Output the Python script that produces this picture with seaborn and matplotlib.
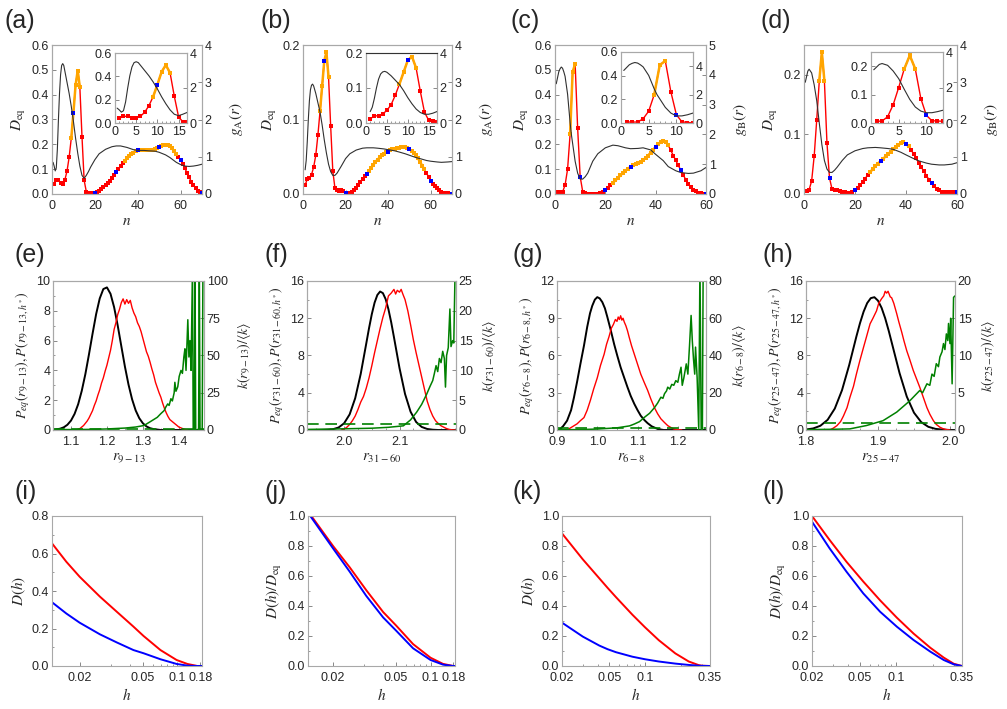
import numpy as np
import pandas as pd
import matplotlib
matplotlib.use("Agg")
import matplotlib.pyplot as plt
import seaborn as sns
from matplotlib.ticker import FormatStrFormatter, MultipleLocator, NullFormatter, FixedLocator

# ---------------- data: top row (D_eq vs n, g(r)) ----------------
n_ab = list(range(1, 71))
n_cd = list(range(1, 61))
D_a = [0.040, 0.058, 0.056, 0.045, 0.042, 0.057, 0.092, 0.148, 0.225, 0.328,
       0.438, 0.497, 0.430, 0.230, 0.055, 0.010, 0.005, 0.003, 0.004, 0.006,
       0.009, 0.014, 0.020, 0.027, 0.035, 0.044, 0.054, 0.065, 0.077, 0.090,
       0.101, 0.112, 0.123, 0.134, 0.144, 0.153, 0.161, 0.167, 0.172, 0.176,
       0.177, 0.178, 0.178, 0.178, 0.178, 0.178, 0.179, 0.181, 0.184, 0.188,
       0.193, 0.197, 0.199, 0.198, 0.193, 0.184, 0.172, 0.160, 0.148, 0.137,
       0.122, 0.104, 0.085, 0.067, 0.050, 0.036, 0.024, 0.014, 0.008, 0.005]
D_b = [0.012, 0.020, 0.021, 0.026, 0.036, 0.052, 0.079, 0.111, 0.145, 0.179,
       0.190, 0.157, 0.091, 0.031, 0.008, 0.005, 0.004, 0.005, 0.004, 0.002,
       0.001, 0.001, 0.003, 0.005, 0.008, 0.012, 0.016, 0.020, 0.024, 0.027,
       0.031, 0.035, 0.039, 0.043, 0.046, 0.049, 0.052, 0.054, 0.056, 0.057,
       0.059, 0.060, 0.061, 0.062, 0.062, 0.063, 0.063, 0.063, 0.062, 0.060,
       0.058, 0.055, 0.052, 0.048, 0.043, 0.038, 0.033, 0.028, 0.023, 0.018,
       0.014, 0.011, 0.008, 0.005, 0.003, 0.002, 0.001, 0.001, 0.0005, 0.0005]
D_c = [0.008, 0.008, 0.008, 0.036, 0.100, 0.240, 0.490, 0.525, 0.264, 0.070,
       0.010, 0.004, 0.002, 0.002, 0.002, 0.002, 0.002, 0.003, 0.008, 0.017,
       0.025, 0.035, 0.045, 0.055, 0.065, 0.075, 0.085, 0.094, 0.102, 0.109,
       0.115, 0.120, 0.125, 0.130, 0.137, 0.145, 0.155, 0.166, 0.178, 0.190,
       0.200, 0.209, 0.215, 0.210, 0.196, 0.176, 0.155, 0.135, 0.115, 0.096,
       0.076, 0.057, 0.041, 0.028, 0.018, 0.011, 0.006, 0.003, 0.002, 0.002]
D_d = [0.0056, 0.007, 0.022, 0.064, 0.125, 0.190, 0.238, 0.190, 0.086, 0.027,
       0.008, 0.007, 0.006, 0.005, 0.004, 0.003, 0.002, 0.002, 0.004, 0.007,
       0.010, 0.015, 0.020, 0.026, 0.032, 0.037, 0.042, 0.047, 0.051, 0.055,
       0.059, 0.063, 0.067, 0.071, 0.075, 0.079, 0.082, 0.085, 0.087, 0.084,
       0.080, 0.074, 0.067, 0.060, 0.052, 0.045, 0.038, 0.031, 0.024, 0.018,
       0.013, 0.009, 0.006, 0.004, 0.003, 0.003, 0.003, 0.003, 0.003, 0.003]
orange_a = [(9, 13), (34, 58)]
orange_b = [(8, 12), (30, 57)]
orange_c = [(6, 8), (23, 45)]
orange_d = [(6, 8), (26, 41)]

g_a_x = [0.5, 1, 1.5, 2, 2.5, 3, 3.5, 4, 4.5, 5, 5.5, 6, 7, 8, 9, 10, 11, 12, 13, 14,
         15, 16, 17, 18, 20, 22, 25, 28, 30, 32, 35, 38, 40, 43, 45, 48, 50, 53, 55, 58,
         60, 62, 64, 66, 68, 70]
g_a = [0.85, 0.75, 0.62, 0.7, 1.2, 2.0, 2.7, 3.2, 3.45, 3.5, 3.45, 3.3, 3.0, 2.7, 2.35,
       1.95, 1.5, 1.1, 0.75, 0.5, 0.42, 0.5, 0.6, 0.72, 0.92, 1.08, 1.2, 1.27, 1.29, 1.29,
       1.25, 1.19, 1.17, 1.17, 1.16, 1.15, 1.12, 1.05, 0.98, 0.85, 0.79, 0.75, 0.74, 0.75,
       0.77, 0.8]
g_b_x = [1, 1.5, 2, 2.5, 3, 3.5, 4, 4.5, 5, 6, 7, 8, 9, 10, 11, 12, 13, 14, 15, 16,
         18, 20, 22, 25, 28, 30, 33, 35, 38, 40, 43, 45, 48, 50, 53, 55, 58, 60, 63, 65,
         68, 70]
g_b = [0.65, 0.9, 1.4, 2.0, 2.5, 2.8, 2.92, 2.95, 2.9, 2.7, 2.45, 2.2, 1.85, 1.45, 1.1,
       0.8, 0.6, 0.5, 0.5, 0.56, 0.75, 0.95, 1.08, 1.18, 1.23, 1.24, 1.24, 1.23, 1.21,
       1.19, 1.16, 1.13, 1.08, 1.04, 0.98, 0.95, 0.9, 0.88, 0.86, 0.85, 0.86, 0.87]
g_c_x = [0.5, 1, 1.5, 2, 2.5, 3, 3.5, 4, 5, 6, 6.5, 7, 8, 9, 10, 11, 12, 13, 15, 17,
         20, 23, 25, 28, 30, 33, 35, 38, 40, 43, 45, 48, 50, 53, 55, 58, 60]
g_c = [3.7, 3.9, 4.1, 4.2, 4.26, 4.22, 4.1, 3.95, 3.35, 2.4, 2.0, 1.7, 1.1, 0.7, 0.5,
       0.5, 0.58, 0.7, 1.1, 1.35, 1.55, 1.64, 1.62, 1.55, 1.52, 1.53, 1.55, 1.48, 1.33,
       1.12, 0.92, 0.78, 0.72, 0.69, 0.7, 0.78, 0.89]
g_d_x = [0.5, 1, 1.5, 2, 3, 4, 5, 6, 7, 8, 9, 10, 11, 12, 13, 15, 17, 20, 23, 25,
         28, 30, 33, 35, 38, 40, 43, 45, 48, 50, 53, 55, 58, 60]
g_d = [3.0, 3.15, 3.3, 3.35, 3.25, 2.93, 2.5, 1.9, 1.33, 0.9, 0.67, 0.58, 0.58, 0.64,
       0.72, 0.9, 1.05, 1.16, 1.22, 1.24, 1.25, 1.24, 1.22, 1.2, 1.12, 1.05, 0.95, 0.89,
       0.83, 0.8, 0.78, 0.78, 0.8, 0.84]

# ---------------- data: middle row ----------------
be_x = [1.05, 1.07, 1.08, 1.09, 1.10, 1.11, 1.12, 1.13, 1.14, 1.15, 1.16, 1.17, 1.18,
        1.19, 1.20, 1.21, 1.22, 1.23, 1.24, 1.25, 1.26, 1.27, 1.28, 1.29, 1.30, 1.31,
        1.32, 1.33, 1.35, 1.47]
be_y = [0.0, 0.09, 0.18, 0.35, 0.63, 1.08, 1.73, 2.63, 3.75, 5.07, 6.46, 7.78, 8.83,
        9.46, 9.57, 9.14, 8.24, 7.01, 5.63, 4.26, 3.05, 2.06, 1.31, 0.79, 0.45, 0.24,
        0.12, 0.06, 0.0, 0.0]
re_x = [1.115, 1.12, 1.125, 1.13, 1.135, 1.14, 1.145, 1.15, 1.155, 1.16, 1.165, 1.17,
        1.175, 1.18, 1.185, 1.19, 1.195, 1.2, 1.205, 1.21, 1.215, 1.22, 1.225, 1.23,
        1.235, 1.24, 1.245, 1.25, 1.255, 1.26, 1.265, 1.27, 1.275, 1.28, 1.285, 1.29,
        1.295, 1.3, 1.305, 1.31, 1.315, 1.32, 1.325, 1.33, 1.335, 1.34, 1.345, 1.35,
        1.355, 1.36, 1.365, 1.37, 1.375, 1.38, 1.385, 1.39, 1.395, 1.4, 1.405, 1.41,
        1.415, 1.42, 1.425]
re_y = [0.0, 0.05, 0.1, 0.2, 0.3, 0.45, 0.6, 0.8, 1.05, 1.3, 1.65, 1.95, 2.35, 2.7,
        3.15, 3.5, 3.95, 4.35, 4.85, 5.35, 6.0, 6.75, 7.2, 7.75, 8.1, 8.55, 8.8, 8.45,
        8.75, 8.5, 8.7, 8.2, 7.85, 7.6, 7.2, 6.95, 6.6, 6.15, 5.7, 5.25, 4.95, 4.55,
        4.1, 3.7, 3.2, 2.85, 2.5, 2.2, 1.8, 1.45, 1.15, 0.9, 0.7, 0.6, 0.5, 0.4, 0.3,
        0.2, 0.15, 0.1, 0.05, 0.02, 0.0]
ke_x = [1.05, 1.10, 1.15, 1.20, 1.25, 1.28, 1.303, 1.32, 1.34, 1.35, 1.359, 1.364,
        1.369, 1.373, 1.378, 1.382, 1.387, 1.389, 1.392, 1.397, 1.401, 1.406, 1.410,
        1.414, 1.417, 1.420, 1.425, 1.428, 1.431, 1.434, 1.438, 1.440, 1.443, 1.445,
        1.447, 1.455, 1.457, 1.459, 1.465, 1.467, 1.47]
ke_y = [0.3, 0.3, 0.4, 0.7, 1.3, 2.0, 3.0, 5.5, 8.5, 11.0, 13.0, 15.5, 17.5, 16.5,
        21.0, 19.5, 25.0, 32.0, 26.0, 29.0, 36.0, 40.0, 38.0, 49.0, 54.5, 40.0, 74.0,
        49.0, 60.0, 40.0, 110.0, 0.0, 0.0, 110.0, 0.0, 0.0, 110.0, 0.0, 0.0, 110.0, 110.0]

bf_x = [1.935, 1.96, 1.97, 1.98, 1.99, 2.00, 2.01, 2.02, 2.03, 2.04, 2.045, 2.05, 2.055,
        2.06, 2.065, 2.07, 2.075, 2.08, 2.085, 2.09, 2.10, 2.11, 2.12, 2.13, 2.14, 2.15,
        2.16, 2.17, 2.2]
bf_y = [0.0, 0.006, 0.024, 0.087, 0.267, 0.72, 1.68, 3.41, 6.03, 9.29, 10.94, 12.44,
        13.67, 14.50, 14.87, 14.70, 14.05, 12.97, 11.57, 9.96, 6.65, 3.87, 1.96, 0.86,
        0.33, 0.11, 0.03, 0.0, 0.0]
rf_x = [1.995, 2.0, 2.005, 2.01, 2.015, 2.02, 2.025, 2.03, 2.035, 2.04, 2.045, 2.05,
        2.055, 2.06, 2.065, 2.07, 2.075, 2.08, 2.085, 2.09, 2.093, 2.096, 2.1, 2.103,
        2.106, 2.11, 2.115, 2.12, 2.125, 2.13, 2.135, 2.14, 2.145, 2.15, 2.155, 2.16,
        2.165, 2.17, 2.175, 2.18, 2.185, 2.19, 2.195, 2.2]
rf_y = [0.0, 0.1, 0.3, 0.6, 1.0, 1.5, 2.2, 3.0, 3.6, 4.5, 5.6, 6.9, 8.3, 9.6, 10.9,
        12.1, 13.1, 14.4, 14.7, 15.1, 14.6, 15.0, 14.8, 15.1, 14.6, 14.0, 12.8, 11.3,
        9.7, 8.3, 7.0, 5.7, 4.4, 3.1, 2.2, 1.5, 1.0, 0.7, 0.45, 0.3, 0.15, 0.06, 0.02, 0.0]
kf_x = [1.935, 2.00, 2.05, 2.08, 2.107, 2.12, 2.131, 2.14, 2.149, 2.155, 2.16, 2.163,
        2.166, 2.169, 2.172, 2.175, 2.178, 2.181, 2.183, 2.185, 2.188, 2.191, 2.193,
        2.196, 2.198, 2.2, 2.203]
kf_y = [0.1, 0.2, 0.3, 0.45, 0.7, 1.7, 3.0, 4.3, 6.0, 7.3, 8.3, 9.5, 10.8, 9.8, 12.0,
        11.3, 13.2, 12.0, 7.2, 12.5, 13.8, 20.3, 14.0, 15.0, 14.6, 25.0, 26.0]

bg_x = [0.9, 0.905, 0.915, 0.925, 0.935, 0.942, 0.95, 0.958, 0.967, 0.975, 0.982,
        0.9875, 0.994, 1.0, 1.006, 1.0125, 1.019, 1.025, 1.033, 1.042, 1.05, 1.058,
        1.067, 1.075, 1.083, 1.092, 1.1, 1.108, 1.117, 1.125, 1.135, 1.15, 1.165, 1.27]
bg_y = [0.0, 0.0, 0.3, 0.75, 1.6, 2.6, 3.9, 5.3, 6.8, 8.3, 9.4, 10.0, 10.5, 10.7, 10.6,
        10.3, 9.8, 9.1, 8.1, 6.9, 5.95, 5.05, 4.2, 3.45, 2.75, 2.1, 1.6, 1.15, 0.8, 0.55,
        0.3, 0.08, 0.0, 0.0]
rg_x = [0.925, 0.94, 0.95, 0.958, 0.967, 0.975, 0.983, 0.991, 1.0, 1.008, 1.017, 1.023,
        1.029, 1.035, 1.04, 1.045, 1.049, 1.052, 1.055, 1.058, 1.061, 1.064, 1.067, 1.071,
        1.075, 1.079, 1.085, 1.092, 1.1, 1.108, 1.117, 1.125, 1.133, 1.142, 1.15, 1.158,
        1.167, 1.175, 1.183, 1.19, 1.2, 1.21]
rg_y = [0.0, 0.3, 0.5, 0.75, 1.0, 1.6, 2.4, 3.3, 4.2, 5.2, 6.1, 6.9, 7.5, 8.2, 8.5,
        8.9, 8.75, 9.1, 8.9, 9.2, 8.85, 9.0, 8.7, 8.4, 8.0, 7.5, 6.8, 6.1, 5.3, 4.5, 3.8,
        3.2, 2.5, 1.8, 1.3, 0.9, 0.6, 0.35, 0.2, 0.08, 0.03, 0.0]
kg_x = [0.9, 0.95, 1.0, 1.05, 1.08, 1.092, 1.105, 1.117, 1.13, 1.142, 1.15, 1.158,
        1.163, 1.167, 1.172, 1.175, 1.18, 1.185, 1.19, 1.195, 1.2, 1.204, 1.208, 1.211,
        1.215, 1.221, 1.225, 1.229, 1.233, 1.236, 1.239, 1.242, 1.244, 1.248, 1.252,
        1.255, 1.258, 1.261, 1.263, 1.266, 1.27]
kg_y = [0.2, 0.2, 0.5, 1.2, 2.2, 3.2, 4.5, 6.8, 9.0, 12.0, 14.5, 17.6, 17.0, 19.5, 21.0,
        23.0, 22.0, 24.5, 24.0, 26.5, 25.6, 30.0, 33.7, 24.0, 28.0, 35.5, 30.0, 45.0,
        61.5, 48.0, 38.0, 30.0, 44.5, 28.0, 0.0, 90.0, 0.0, 0.0, 90.0, 90.0, 90.0]

bh_x = [1.8, 1.81, 1.82, 1.83, 1.84, 1.85, 1.86, 1.87, 1.875, 1.88, 1.885, 1.89, 1.895,
        1.90, 1.905, 1.91, 1.915, 1.92, 1.93, 1.94, 1.95, 1.96, 1.97, 1.98, 1.99, 2.0, 2.007]
bh_y = [0.054, 0.167, 0.455, 1.09, 2.30, 4.27, 6.97, 10.04, 11.47, 12.70, 13.63, 14.16,
        14.26, 13.89, 13.12, 12.0, 10.63, 9.12, 6.10, 3.59, 1.86, 0.85, 0.34, 0.12, 0.04,
        0.0, 0.0]
rh_x = [1.833, 1.838, 1.843, 1.848, 1.852, 1.857, 1.861, 1.866, 1.870, 1.875, 1.880,
        1.884, 1.889, 1.893, 1.898, 1.901, 1.905, 1.908, 1.910, 1.912, 1.914, 1.917,
        1.919, 1.922, 1.926, 1.929, 1.933, 1.936, 1.940, 1.944, 1.949, 1.953, 1.958,
        1.963, 1.968, 1.972, 1.977, 1.981, 1.986, 1.990, 1.995, 2.0]
rh_y = [0.0, 0.2, 0.47, 0.9, 1.5, 2.4, 3.5, 4.7, 6.0, 7.5, 8.9, 10.0, 11.4, 12.0, 12.8,
        13.6, 14.1, 14.4, 14.9, 14.7, 14.9, 14.3, 14.2, 13.6, 12.5, 11.6, 10.5, 9.6, 8.5,
        7.6, 6.4, 5.6, 4.6, 3.5, 2.4, 1.7, 1.0, 0.6, 0.3, 0.15, 0.05, 0.0]
kh_x = [1.8, 1.84, 1.861, 1.884, 1.907, 1.926, 1.944, 1.958, 1.962, 1.968, 1.972, 1.975,
        1.978, 1.981, 1.984, 1.986, 1.989, 1.991, 1.993, 1.995, 1.997, 1.998, 2.0, 2.001,
        2.003, 2.005, 2.007]
kh_y = [0.05, 0.1, 0.15, 0.6, 1.25, 2.4, 3.9, 5.3, 5.0, 6.2, 6.0, 7.5, 7.2, 8.9, 8.5,
        9.8, 10.5, 11.6, 10.8, 12.9, 12.0, 14.3, 11.6, 15.0, 6.2, 17.8, 18.0]
k_ref = 1.0

# ---------------- data: bottom row ----------------
h_i = [0.0146, 0.0171, 0.02, 0.0259, 0.0328, 0.0426, 0.0506, 0.0694, 0.098, 0.127, 0.166, 0.19]
Di_red = [0.654, 0.556, 0.476, 0.37, 0.29, 0.21, 0.16, 0.085, 0.032, 0.011, 0.0, 0.0]
Di_blue = [0.34, 0.28, 0.231, 0.169, 0.126, 0.085, 0.068, 0.036, 0.011, 0.002, 0.0, 0.0]
h_j = [0.0150, 0.01556, 0.02, 0.0247, 0.0311, 0.0402, 0.05, 0.0687, 0.1, 0.136, 0.18, 0.19]
Dj_red = [1.03, 1.0, 0.800, 0.658, 0.505, 0.360, 0.270, 0.146, 0.055, 0.014, 0.0, 0.0]
Dj_blue = [1.02, 0.99, 0.784, 0.629, 0.467, 0.324, 0.236, 0.118, 0.040, 0.009, 0.0, 0.0]
h_k = [0.02, 0.0299, 0.0412, 0.0483, 0.0568, 0.078, 0.0996, 0.130, 0.179, 0.232, 0.281, 0.299, 0.35]
Dk_red = [0.884, 0.711, 0.584, 0.521, 0.459, 0.342, 0.258, 0.172, 0.084, 0.030, 0.006, 0.002, 0.0]
Dk_blue = [0.289, 0.196, 0.136, 0.112, 0.092, 0.062, 0.045, 0.030, 0.016, 0.007, 0.002, 0.001, 0.0]
h_l = [0.02, 0.028, 0.0386, 0.0532, 0.0733, 0.101, 0.139, 0.191, 0.247, 0.299, 0.35]
Dl_red = [1.0, 0.84, 0.695, 0.563, 0.438, 0.322, 0.216, 0.122, 0.056, 0.015, 0.0]
Dl_blue = [0.962, 0.784, 0.629, 0.484, 0.362, 0.262, 0.173, 0.096, 0.040, 0.011, 0.0]

# ---------------- style ----------------
sns.set_style("white")
plt.rcParams["font.family"] = ["Liberation Sans", "DejaVu Sans"]
plt.rcParams["mathtext.fontset"] = "stix"
RED, BLUE, ORANGE, GREEN = "#ff0000", "#0000ff", "#ffa500", "#008000"
SPINE = "#a8a8a8"
TS = 9
LS = 11
PL = 18

W, H = 1007, 709
fig = plt.figure(figsize=(W / 100, H / 100), dpi=100)


def box(l, t, r, b):
    return [l / W, 1 - b / H, (r - l) / W, (b - t) / H]


def style(ax, right=False):
    for s in ax.spines.values():
        s.set_color(SPINE)
        s.set_linewidth(0.8)
    ax.tick_params(which="both", direction="in", color="#888888", labelsize=TS, pad=2,
                   bottom=not right, left=not right, right=right, top=False)
    ax.tick_params(axis="x", which="both", pad=4.5)
    ax.tick_params(which="major", length=3, width=0.7)
    ax.tick_params(which="minor", length=1.6, width=0.6)


def draw_D(ax, n, D, orange, ms, bs):
    df = pd.DataFrame({"n": n, "D": D})
    sns.lineplot(data=df, x="n", y="D", ax=ax, color=RED, lw=1.0, marker="s",
                 markersize=ms, markeredgewidth=0, estimator=None, sort=False)
    for lo, hi in orange:
        sub = df[(df.n >= lo) & (df.n <= hi)]
        sns.lineplot(data=sub, x="n", y="D", ax=ax, color=ORANGE, lw=1.8, marker="s",
                     markersize=ms, markeredgewidth=0, estimator=None, sort=False)
    blue = df[df.n % 10 == 0]
    sns.scatterplot(data=blue, x="n", y="D", ax=ax, color=BLUE, marker="s", s=bs,
                    linewidth=0, zorder=5)


def top_panel(n, D, orange, gx, gy, pos, ipos, xmax, ymax, ystep, gmax, glabel,
              ixmax, ixticks, iystep, label, lpos, dark_inset_top=False):
    ax = fig.add_axes(box(*pos))
    ax2 = ax.twinx()
    draw_D(ax, n, D, orange, 2.3, 8)
    sns.lineplot(x=gx, y=gy, ax=ax2, color="#303030", lw=0.8, estimator=None, sort=False)
    ax.set_xlim(0, xmax)
    ax.set_ylim(0, ymax)
    ax.set_xticks([0, 20, 40, 60])
    ax.yaxis.set_major_locator(MultipleLocator(ystep))
    ax.yaxis.set_major_formatter(FormatStrFormatter("%.1f"))
    ax2.set_ylim(0, gmax)
    ax2.set_yticks(list(range(gmax + 1)))
    ax.set_xlabel("$n$", fontsize=LS, labelpad=1)
    ax.set_ylabel(r"$D_{\rm eq}$", fontsize=LS, labelpad=3)
    ax2.set_ylabel(glabel, fontsize=LS, labelpad=11)
    style(ax)
    style(ax2, right=True)
    # inset
    ia = fig.add_axes(box(*ipos))
    ia.set_facecolor("white")
    ib = ia.twinx()
    draw_D(ia, n, D, orange, 2.3, 8)
    sns.lineplot(x=gx, y=gy, ax=ib, color="#303030", lw=0.8, estimator=None, sort=False)
    ia.set_xlim(0, ixmax)
    ia.set_ylim(0, ymax)
    ia.set_xticks(ixticks)
    ia.xaxis.set_minor_locator(MultipleLocator(1))
    ia.yaxis.set_major_locator(MultipleLocator(iystep))
    ia.yaxis.set_major_formatter(FormatStrFormatter("%.1f"))
    ib.set_ylim(0, gmax)
    ib.set_yticks([0, 2, 4])
    for a in (ia, ib):
        a.set_xlabel("")
        a.set_ylabel("")
    style(ia)
    style(ib, right=True)
    ia.tick_params(axis="x", which="both", pad=2)
    if dark_inset_top:
        ib.spines["top"].set_color("#333333")
    fig.text(lpos[0] / W, 1 - lpos[1] / H, label, fontsize=PL, ha="left", va="center")


top_panel(n_ab, D_a, orange_a, g_a_x, g_a, (52, 45, 202, 194), (115, 53, 187, 123),
          70, 0.6, 0.1, 4, r"$g_{\rm A}(r)$", 17, [0, 5, 10, 15], 0.2, "(a)", (4, 21))
top_panel(n_ab, D_b, orange_b, g_b_x, g_b, (303, 45, 452, 194), (366, 53, 437, 123),
          70, 0.2, 0.1, 4, r"$g_{\rm A}(r)$", 17, [0, 5, 10, 15], 0.1, "(b)", (261, 21),
          dark_inset_top=True)
top_panel(n_cd, D_c, orange_c, g_c_x, g_c, (555, 45, 706, 194), (621, 52, 693, 123),
          60, 0.6, 0.1, 5, r"$g_{\rm B}(r)$", 13, [0, 5, 10], 0.2, "(c)", (511, 21))
top_panel(n_cd, D_d, orange_d, g_d_x, g_d, (804, 45, 957, 194), (871, 52, 943, 123),
          60, 0.25, 0.1, 4, r"$g_{\rm B}(r)$", 13, [0, 5, 10], 0.1, "(d)", (761, 21))


def mid_panel(pos, bx, by, rx, ry, kx, ky, xlim, xticks, xfmt, xminor, ylim, ystep,
              kmax, kstep, sub, label, lpos):
    ax = fig.add_axes(box(*pos))
    ax2 = ax.twinx()
    sns.lineplot(x=bx, y=by, ax=ax, color="black", lw=1.4, estimator=None, sort=False)
    sns.lineplot(x=rx, y=ry, ax=ax, color=RED, lw=1.0, estimator=None, sort=False)
    sns.lineplot(x=kx, y=ky, ax=ax2, color=GREEN, lw=1.1, estimator=None, sort=False)
    ax2.axhline(k_ref, color=GREEN, lw=1.2, ls=(0, (7, 4)))
    ax.set_xlim(*xlim)
    ax.set_ylim(0, ylim)
    ax.set_xticks(xticks)
    ax.xaxis.set_major_formatter(FormatStrFormatter(xfmt))
    ax.xaxis.set_minor_locator(MultipleLocator(xminor))
    ax.yaxis.set_major_locator(MultipleLocator(ystep))
    ax.yaxis.set_minor_locator(MultipleLocator(ystep / 2))
    ax2.set_ylim(0, kmax)
    ax2.yaxis.set_major_locator(MultipleLocator(kstep))
    ax.set_xlabel(r"$r_{%s}$" % sub, fontsize=LS, labelpad=2)
    ax.set_ylabel(r"$P_{eq}(r_{%s}), P(r_{%s,h^*})$" % (sub, sub), fontsize=10, labelpad=3)
    ax2.set_ylabel(r"$k(r_{%s})/\langle k\rangle$" % sub, fontsize=10, labelpad=5)
    style(ax)
    style(ax2, right=True)
    fig.text(lpos[0] / W, 1 - lpos[1] / H, label, fontsize=PL, ha="left", va="center")


mid_panel((53, 281, 204, 430), be_x, be_y, re_x, re_y, ke_x, ke_y, (1.05, 1.47),
          [1.1, 1.2, 1.3, 1.4], "%.1f", 0.05, 10, 2, 100, 25, "9-13", "(e)", (14, 255))
mid_panel((307, 281, 456, 430), bf_x, bf_y, rf_x, rf_y, kf_x, kf_y, (1.933, 2.202),
          [2.0, 2.1], "%.1f", 0.025, 16, 4, 25, 5, "31-60", "(f)", (264, 255))
mid_panel((557, 281, 706, 430), bg_x, bg_y, rg_x, rg_y, kg_x, kg_y, (0.9, 1.27),
          [0.9, 1.0, 1.1, 1.2], "%.1f", 0.05, 12, 3, 80, 20, "6-8", "(g)", (512, 255))
mid_panel((806, 281, 955, 430), bh_x, bh_y, rh_x, rh_y, kh_x, kh_y, (1.8, 2.007),
          [1.8, 1.9, 2.0], "%.1f", 0.025, 16, 4, 20, 5, "25-47", "(h)", (762, 255))


def fwd(h):
    return -np.power(np.clip(h, 1e-6, None), -0.4)


def inv(v):
    return np.power(np.clip(-np.asarray(v, dtype=float), 1e-6, None), -2.5)


def bot_panel(pos, h, red, blue, scale, xlim, xticks, xtl, minor, ymax, ylabel, label, lpos):
    ax = fig.add_axes(box(*pos))
    if scale == "power":
        ax.set_xscale("function", functions=(fwd, inv))
    else:
        ax.set_xscale("log")
    sns.lineplot(x=h, y=red, ax=ax, color=RED, lw=1.4, estimator=None, sort=False)
    sns.lineplot(x=h, y=blue, ax=ax, color=BLUE, lw=1.4, estimator=None, sort=False)
    ax.set_xlim(*xlim)
    ax.set_ylim(0, ymax)
    ax.xaxis.set_major_locator(FixedLocator(xticks))
    ax.set_xticklabels(xtl)
    ax.xaxis.set_minor_locator(FixedLocator(minor))
    ax.xaxis.set_minor_formatter(NullFormatter())
    ax.yaxis.set_major_locator(MultipleLocator(0.2))
    ax.yaxis.set_minor_locator(MultipleLocator(0.1))
    ax.yaxis.set_major_formatter(FormatStrFormatter("%.1f"))
    ax.set_xlabel("$h$", fontsize=LS, labelpad=2)
    ax.set_ylabel(ylabel, fontsize=LS, labelpad=3)
    style(ax)
    fig.text(lpos[0] / W, 1 - lpos[1] / H, label, fontsize=PL, ha="left", va="center")


minor_ij = [0.03, 0.04, 0.06, 0.07, 0.08, 0.09]
minor_kl = [0.03, 0.04, 0.06, 0.07, 0.08, 0.09, 0.2, 0.3]
bot_panel((52, 516, 202, 666), h_i, Di_red, Di_blue, "power", (0.0146, 0.19),
          [0.02, 0.05, 0.1, 0.18], ["0.02", "0.05", "0.1", "0.18"], minor_ij, 0.8,
          r"$D(h)$", "(i)", (14, 492))
bot_panel((308, 516, 455, 666), h_j, Dj_red, Dj_blue, "power", (0.0150, 0.19),
          [0.02, 0.05, 0.1, 0.18], ["0.02", "0.05", "0.1", "0.18"], minor_ij, 1.0,
          r"$D(h)/D_{\rm eq}$", "(j)", (264, 492))
bot_panel((562, 516, 710, 666), h_k, Dk_red, Dk_blue, "log", (0.02, 0.35),
          [0.02, 0.05, 0.1, 0.35], ["0.02", "0.05", "0.1", "0.35"], minor_kl, 1.0,
          r"$D(h)$", "(k)", (512, 492))
bot_panel((812, 516, 962, 666), h_l, Dl_red, Dl_blue, "log", (0.02, 0.35),
          [0.02, 0.05, 0.1, 0.35], ["0.02", "0.05", "0.1", "0.35"], minor_kl, 1.0,
          r"$D(h)/D_{\rm eq}$", "(l)", (762, 492))

fig.savefig("out.png", dpi=100)
